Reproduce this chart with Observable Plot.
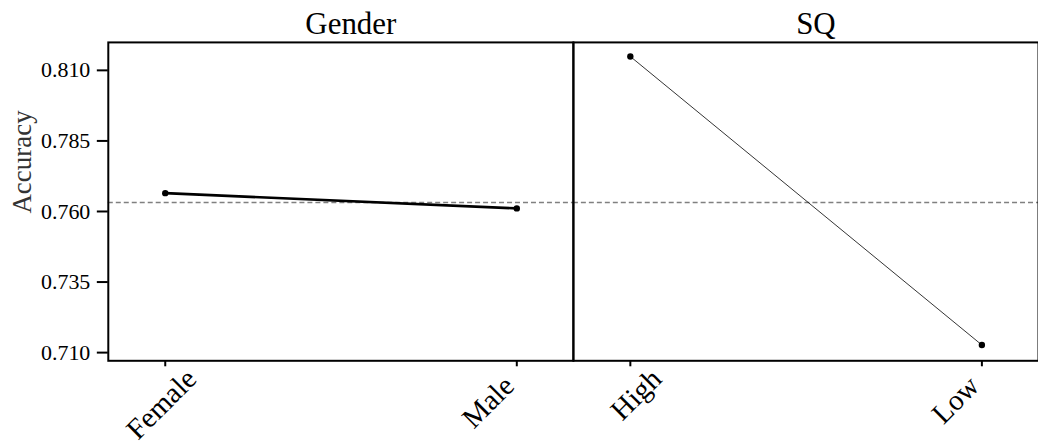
<!DOCTYPE html>
<html><head><meta charset="utf-8">
<script src="https://cdn.jsdelivr.net/npm/d3@7"></script>
<script src="https://cdn.jsdelivr.net/npm/@observablehq/plot@0.6"></script>
<style>
html,body{margin:0;padding:0;background:#fff;overflow:hidden}
</style>
</head><body><div id="chart"></div>
<script>
const factors = ["Gender", "Gender", "SQ", "SQ"];
const levels = ["Female", "Male", "High", "Low"];
const positions = [0, 1, 0, 1];
const accuracy = [0.7665, 0.7611, 0.8149, 0.7127];
const grandMean = 0.7632;
const yTicks = [0.710, 0.735, 0.760, 0.785, 0.810];
const yLabel = "Accuracy";

const data = levels.map((l, i) => ({factor: factors[i], level: l, pos: positions[i], acc: accuracy[i]}));
const serif = "Liberation Serif";

const plot = Plot.plot({
  width: 1040, height: 443,
  marginLeft: 107, marginRight: 0, marginTop: 42, marginBottom: 82,
  style: {fontFamily: serif, background: "white", color: "black"},
  fx: {domain: ["Gender", "SQ"], paddingInner: 0, paddingOuter: 0, label: null},
  x: {domain: [-0.162, 1.161], axis: null},
  y: {domain: [0.7071, 0.8199], axis: null},
  marks: [
    Plot.ruleY([grandMean], {stroke: "#808080", strokeWidth: 1.5, strokeDasharray: "5,3"}),
    Plot.line(data.filter(d => d.factor === "Gender"), {x: "pos", y: "acc", fx: "factor", stroke: "black", strokeWidth: 2.7}),
    Plot.line(data.filter(d => d.factor === "SQ"), {x: "pos", y: "acc", fx: "factor", stroke: "black", strokeWidth: 0.8}),
    Plot.dot(data, {x: "pos", y: "acc", fx: "factor", fill: "black", r: 3.2}),
    Plot.frame({stroke: "black", strokeWidth: 2}),
    Plot.axisY({ticks: yTicks, tickFormat: d3.format(".3f"), tickSize: 11, tickPadding: 7, fontSize: 22, fontFamily: serif, label: null, strokeWidth: 2}),
    Plot.axisX({ticks: [0, 1], tickSize: 6, strokeWidth: 2, tickFormat: () => "", label: null}),
    Plot.axisFx({anchor: "top", tickSize: 0, tickPadding: 8, fontSize: 31, fontFamily: serif, label: null, dx: 10}),
    Plot.text(data.filter(d => d.pos === 0), {x: "pos", fx: "factor", text: "level", frameAnchor: "bottom", rotate: -45, textAnchor: "end", lineAnchor: "bottom", fontSize: 29, fontFamily: serif, dx: 33, dy: 20}),
    Plot.text(data.filter(d => d.pos === 1), {x: "pos", fx: "factor", text: "level", frameAnchor: "bottom", rotate: -45, textAnchor: "end", lineAnchor: "bottom", fontSize: 29, fontFamily: serif, dx: -1, dy: 27}),
    Plot.text([yLabel], {fx: () => "Gender", text: d => d, frameAnchor: "left", rotate: -90, dx: -86, dy: 12, fontSize: 27, fontFamily: serif, fill: "#333"})
  ]
});
document.getElementById("chart").appendChild(plot);
</script>
</body></html>
